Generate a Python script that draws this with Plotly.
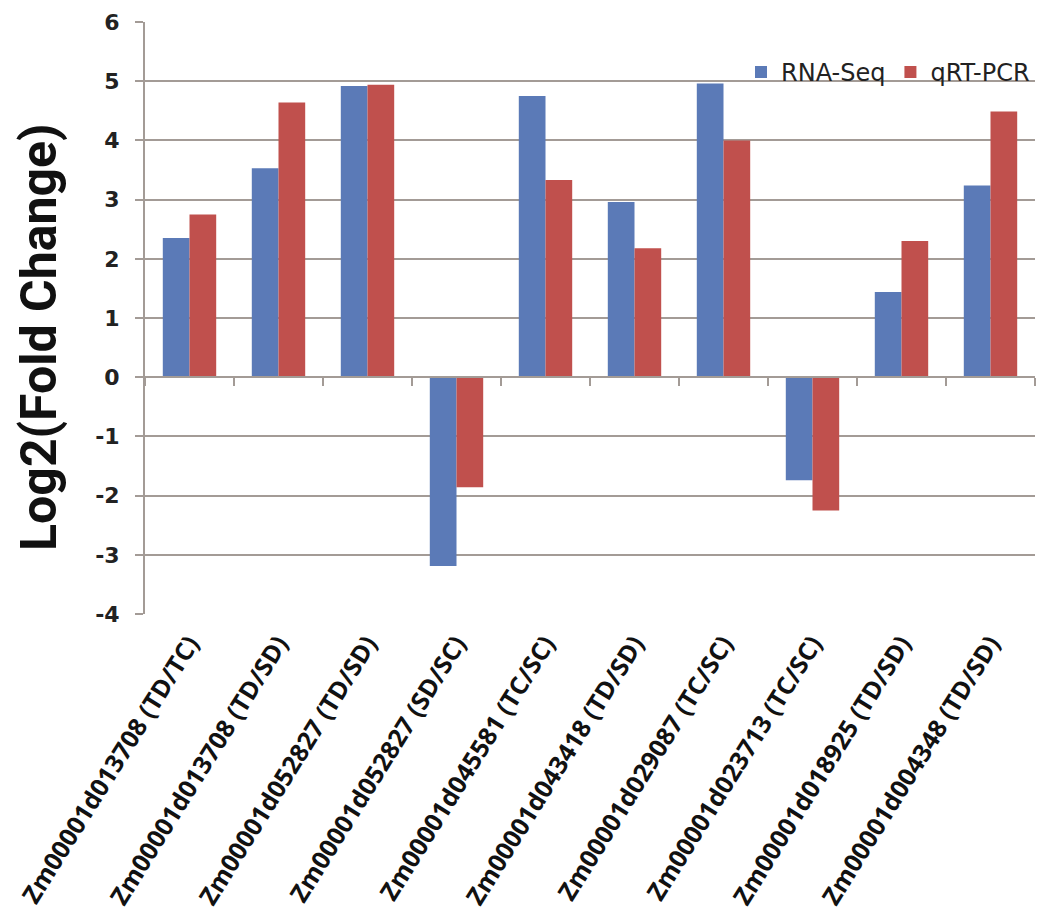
import plotly.graph_objects as go

categories = [
    "Zm00001d013708 (TD/TC)",
    "Zm00001d013708 (TD/SD)",
    "Zm00001d052827 (TD/SD)",
    "Zm00001d052827 (SD/SC)",
    "Zm00001d045581 (TC/SC)",
    "Zm00001d043418 (TD/SD)",
    "Zm00001d029087 (TC/SC)",
    "Zm00001d023713 (TC/SC)",
    "Zm00001d018925 (TD/SD)",
    "Zm00001d004348 (TD/SD)",
]
rna_seq = [2.35, 3.53, 4.92, -3.19, 4.75, 2.96, 4.96, -1.74, 1.44, 3.24]
qrt_pcr = [2.75, 4.64, 4.94, -1.86, 3.33, 2.18, 4.0, -2.25, 2.3, 4.49]
y_ticks = [-4, -3, -2, -1, 0, 1, 2, 3, 4, 5, 6]
y_tick_text = ["-4", "-3", "-2", "-1", "0", "1", "2", "3", "4", "5", "6"]
y_title = "Log2(Fold Change)"

grid = "#a39b96"
blue = "#5B7AB7"
red = "#C0504D"

fig = go.Figure()
fig.add_trace(go.Bar(name="RNA-Seq", x=categories, y=rna_seq, marker_color=blue,
                     marker_line_width=0))
fig.add_trace(go.Bar(name="qRT-PCR", x=categories, y=qrt_pcr, marker_color=red,
                     marker_line_width=0))
# helper trace for the axis drawn at y = 0
fig.add_trace(go.Scatter(x=categories, y=[0] * len(categories), xaxis="x2",
                         mode="markers", marker=dict(opacity=0), hoverinfo="skip",
                         showlegend=False))

fig.update_layout(
    width=1029, height=904,
    margin=dict(l=137, r=2, t=14, b=298),
    paper_bgcolor="white", plot_bgcolor="white",
    barmode="group", bargap=0.4, bargroupgap=0,
    font=dict(family="DejaVu Sans", color="#1a1a1a"),
    showlegend=True,
    legend=dict(orientation="h", x=1.0, xanchor="right", y=0.915, yanchor="middle",
                bgcolor="rgba(0,0,0,0)", font=dict(family="DejaVu Sans", size=24, color="#222"),
                itemwidth=30, tracegroupgap=0),
    xaxis=dict(type="category", categoryorder="array", categoryarray=categories,
               range=[-0.5, 9.5], showgrid=False, showline=False, zeroline=False,
               automargin=False,
               tickangle=-58, ticks="outside", ticklen=4, tickcolor="rgba(0,0,0,0)",
               tickfont=dict(family="Open Sans", size=25, weight="bold", color="#111"),
               ),
    xaxis2=dict(type="category", categoryorder="array", categoryarray=categories,
                range=[-0.5, 9.5], overlaying="x", anchor="free", position=0.4,
                side="bottom", showline=True, linecolor=grid, linewidth=2,
                ticks="outside", tickson="boundaries", ticklen=8, tickwidth=2,
                tickcolor=grid, showticklabels=False, showgrid=False, zeroline=False),
    yaxis=dict(range=[-4, 6], tickvals=y_ticks, ticktext=y_tick_text,
               showgrid=True, gridcolor=grid, automargin=False,
               gridwidth=2, zeroline=False, showline=True, linecolor=grid,
               linewidth=2, ticks="outside", ticklen=8, tickwidth=2, tickcolor=grid,
               tickfont=dict(family="DejaVu Sans", size=22, weight="bold", color="#222"),
               ticklabelstandoff=11),
    annotations=[dict(text="<b>" + y_title + "</b>", textangle=-90, xref="paper",
                      yref="paper", x=0, y=0.468, xanchor="center", yanchor="middle",
                      xshift=-106, showarrow=False,
                      font=dict(family="Roboto", size=50, color="#111"))],
)

fig.write_html("out.html")
